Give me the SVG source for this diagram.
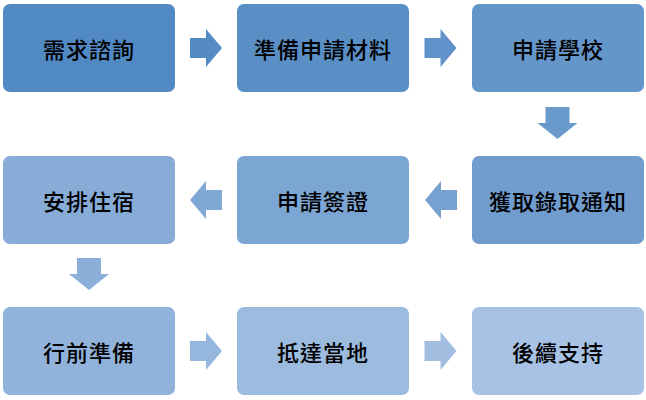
<svg xmlns="http://www.w3.org/2000/svg" width="646" height="400" viewBox="0 0 646 400">
<style>
.n rect{stroke:none}
.n text{font-family:"Noto Sans CJK TC","Noto Sans CJK SC",sans-serif;font-size:22px;font-weight:500;letter-spacing:1px;fill:#000;text-anchor:middle;dominant-baseline:central}
</style>
<defs>
<path id="ar" d="M-16,-10 H0 V-19 L16,0 L0,19 V10 H-16 Z"/>
<path id="ad" d="M-12,-16 H12 V0 H20 L0,16 L-20,0 H-12 Z"/>
</defs>
<g id="n1" class="n"><rect x="3" y="4" width="172" height="88" rx="7" fill="#5089C3"/><text x="89" y="48">需求諮詢</text></g>
<g id="n2" class="n"><rect x="237" y="4" width="172" height="88" rx="7" fill="#5A8FC6"/><text x="323" y="48">準備申請材料</text></g>
<g id="n3" class="n"><rect x="472" y="4" width="172" height="88" rx="7" fill="#6596CA"/><text x="558" y="48">申請學校</text></g>
<g id="n4" class="n"><rect x="472" y="156" width="172" height="88" rx="7" fill="#709DCE"/><text x="558" y="200">獲取錄取通知</text></g>
<g id="n5" class="n"><rect x="237" y="156" width="172" height="88" rx="7" fill="#7BA5D3"/><text x="323" y="200">申請簽證</text></g>
<g id="n6" class="n"><rect x="3" y="156" width="172" height="88" rx="7" fill="#86ACD7"/><text x="89" y="200">安排住宿</text></g>
<g id="n7" class="n"><rect x="3" y="307" width="172" height="88" rx="7" fill="#91B3DB"/><text x="89" y="351">行前準備</text></g>
<g id="n8" class="n"><rect x="237" y="307" width="172" height="88" rx="7" fill="#9CBBDF"/><text x="323" y="351">抵達當地</text></g>
<g id="n9" class="n"><rect x="472" y="307" width="172" height="88" rx="7" fill="#A7C2E4"/><text x="558" y="351">後續支持</text></g>
<g id="connectors">
<use href="#ar" transform="translate(206,48)" fill="#548BC4"/>
<use href="#ar" transform="translate(440.5,48)" fill="#5F92C8"/>
<use href="#ad" transform="translate(557.5,123)" fill="#6A99CC"/>
<use href="#ar" transform="translate(441,200) scale(-1,1)" fill="#75A1D0"/>
<use href="#ar" transform="translate(206,200) scale(-1,1)" fill="#80A8D5"/>
<use href="#ad" transform="translate(89,274)" fill="#8BAFD9"/>
<use href="#ar" transform="translate(206,351)" fill="#96B7DD"/>
<use href="#ar" transform="translate(440.5,351)" fill="#A1BEE1"/>
</g>
</svg>
